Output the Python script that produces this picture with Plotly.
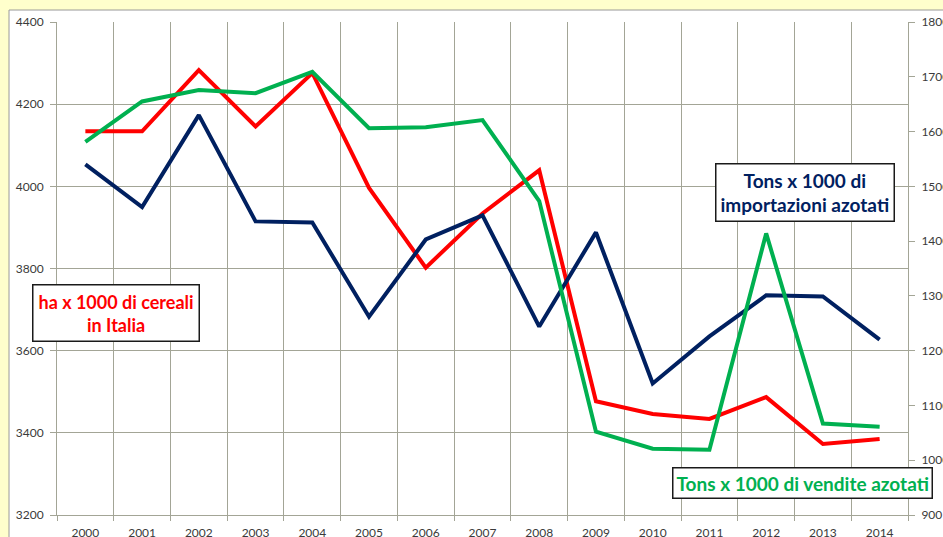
import plotly.graph_objects as go

years = list(range(2000, 2015))
cereali = [4134, 4134, 4283, 4146, 4276, 3996, 3802, 3934, 4039, 3477, 3446, 3434, 3487, 3373, 3385]
vendite = [1581, 1655, 1676, 1670, 1709, 1606, 1608, 1621, 1473, 1052, 1021, 1019, 1414, 1067, 1061]
importazioni = [1540, 1462, 1630, 1436, 1434, 1262, 1403, 1447, 1244, 1416, 1140, 1226, 1301, 1299, 1220]

label_cereali = "ha x 1000 di cereali<br>in Italia"
label_import = "Tons x 1000 di<br>importazioni azotati"
label_vendite = "Tons x 1000 di vendite azotati"

RED = "#FF0000"
GREEN = "#00B050"
NAVY = "#002060"
GRID = "#A3A596"
FONT = "Lato"

fig = go.Figure()
fig.add_trace(go.Scatter(x=years, y=cereali, mode="lines", line=dict(color=RED, width=4),
                         yaxis="y", xaxis="x", showlegend=False))
fig.add_trace(go.Scatter(x=years, y=importazioni, mode="lines", line=dict(color=NAVY, width=4),
                         yaxis="y2", xaxis="x", showlegend=False))
fig.add_trace(go.Scatter(x=years, y=vendite, mode="lines", line=dict(color=GREEN, width=4),
                         yaxis="y2", xaxis="x", showlegend=False))

boundaries = [y - 0.5 for y in years] + [years[-1] + 0.5]

fig.update_layout(
    width=943, height=537,
    margin=dict(l=57, r=35, t=22, b=22),
    paper_bgcolor="#FFFFCC",
    plot_bgcolor="#E9F0DC",
    font=dict(family=FONT, size=12, color="#3A3A3A"),
    xaxis=dict(range=[1999.5, 2014.5], tickvals=years, ticktext=[str(y) for y in years],
               showgrid=False, zeroline=False, ticks="", ticklabelstandoff=7, automargin=False,
               showline=True, linecolor=GRID, linewidth=1, tickfont=dict(size=12)),
    xaxis2=dict(range=[1999.5, 2014.5], overlaying="x", tickvals=boundaries, automargin=False,
                showticklabels=False, showgrid=True, gridcolor=GRID, gridwidth=1,
                ticks="outside", ticklen=5, tickcolor=GRID, zeroline=False, side="bottom",
                anchor="y"),
    yaxis=dict(range=[3200, 4400], dtick=200, showgrid=True, gridcolor=GRID, gridwidth=1,
               zeroline=False, ticks="outside", ticklen=6, tickcolor=GRID, automargin=False,
               showline=True, linecolor=GRID, ticklabelstandoff=4),
    yaxis2=dict(range=[900, 1800], dtick=100, overlaying="y", side="right", showgrid=False,
                zeroline=False, ticks="outside", ticklen=6, tickcolor=GRID, automargin=False,
                showline=True, linecolor=GRID, ticklabelstandoff=4),
    shapes=[dict(type="rect", xref="paper", yref="paper", x0=-0.0564, x1=1.3, y0=-0.3, y1=1.0243,
                 fillcolor="white", line=dict(color="#9A9A9A", width=1), layer="below")],
)

fig.add_trace(go.Scatter(x=[None], y=[None], xaxis="x2", yaxis="y", showlegend=False, hoverinfo="skip"))

box = dict(bgcolor="white", bordercolor="#1A1A1A", borderwidth=1.5, showarrow=False,
           xref="paper", yref="paper", xanchor="center", yanchor="middle")
fig.add_annotation(text=f"<b>{label_cereali}</b>", x=0.0693, y=0.4097,
                   font=dict(family=FONT, size=18, color=RED), borderpad=5, **box)
fig.add_annotation(text=f"<b>{label_import}</b>", x=0.879, y=0.655,
                   font=dict(family=FONT, size=19, color=NAVY), borderpad=4, **box)
fig.add_annotation(text=f"<b>{label_vendite}</b>", x=0.8766, y=0.0649,
                   font=dict(family=FONT, size=19, color=GREEN), borderpad=3, **box)

fig.write_html("out.html", config={"displayModeBar": False},
               post_script="document.body.style.margin='0';document.body.style.overflow='hidden';document.body.style.background='#FFFFCC';")
